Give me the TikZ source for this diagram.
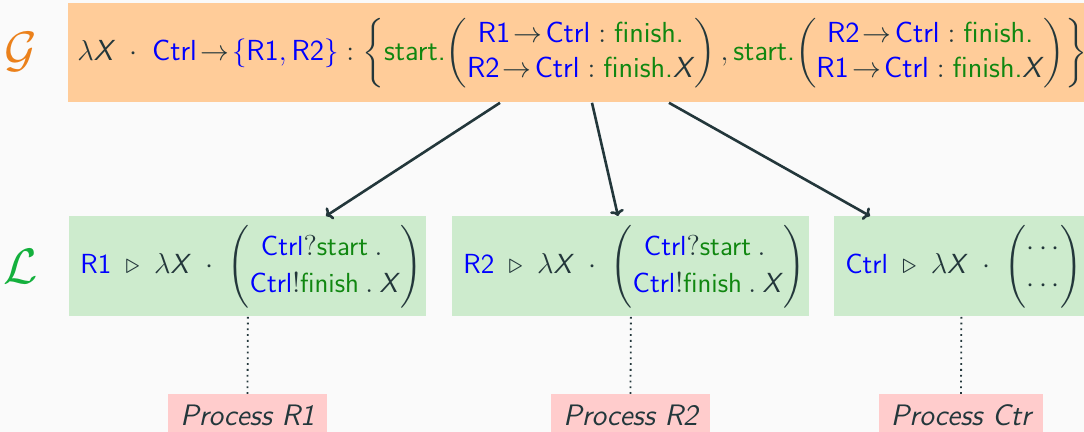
\documentclass[tikz,border=0pt]{standalone}
\usepackage{amsmath,amssymb}
\usetikzlibrary{arrows.meta}

\definecolor{bgc}{HTML}{FAFAFA}
\definecolor{ink}{HTML}{23373B}
\definecolor{gfill}{RGB}{255,204,153}
\definecolor{lfill}{RGB}{205,235,205}
\definecolor{pfill}{RGB}{255,204,204}
\definecolor{chanblue}{RGB}{0,0,255}
\definecolor{msggreen}{RGB}{16,135,16}
\definecolor{glabel}{HTML}{EB811B}
\definecolor{llabel}{HTML}{14B03D}

% participants, messages and the recursion variable
\newcommand{\role}[1]{\textcolor{chanblue}{\textsf{#1}}}
\newcommand{\msg}[1]{\textcolor{msggreen}{\textsf{#1}}}
\newcommand{\tvar}{\textsf{\textit{X}}}
\newcommand{\seqdot}{\mskip4mu.\mskip4mu}
\newcommand{\sendto}{\mskip2mu{\rightarrow}\mskip2mu}

\tikzset{
  x=0.5pt, y=-0.5pt,
  every node/.style={font=\sffamily\fontsize{14.5}{17.5}\selectfont, text=ink},
  gbox/.style={fill=gfill, inner xsep=4.5pt, inner ysep=0pt, minimum height=49.5pt,
    text width=505pt, align=left, anchor=north west},
  lbox/.style={fill=lfill, inner xsep=5.5pt, inner ysep=0pt, minimum height=50pt,
    align=left, anchor=north west, font=\sffamily\fontsize{13.8}{16.6}\selectfont},
  pbox/.style={fill=pfill, inner xsep=6pt, inner ysep=0pt, minimum height=21pt,
    minimum width=77.5pt, anchor=north, font=\sffamily\itshape\fontsize{14.8}{18}\selectfont},
  conn/.style={draw=ink, line width=1.3pt, -{To[length=3pt,width=7pt]}},
  tether/.style={draw=ink, dotted, line width=0.9pt},
  tierlabel/.style={font=\fontsize{23}{27}\selectfont}
}

\begin{document}
\begin{tikzpicture}
  \fill[bgc] (0,0) rectangle (1084,432);
  \useasboundingbox (0,0) rectangle (1084,432);

  % global type
  \node[tierlabel, text=glabel] (glab) at (21,52) {$\mathcal{G}$};
  \node[gbox] (top) at (68,3) {\mbox{\renewcommand{\arraystretch}{1.0}%
    $\lambda\tvar \;\cdot\; \role{Ctrl}\sendto
     \textcolor{chanblue}{\{\textsf{R1},\textsf{R2}\}} :
     \left\{\msg{start.}\!\begin{pmatrix}
        \role{R1}\sendto\role{Ctrl} : \msg{finish.}\\
        \role{R2}\sendto\role{Ctrl} : \msg{finish.}\tvar
      \end{pmatrix},
      \msg{start.}\!\begin{pmatrix}
        \role{R2}\sendto\role{Ctrl} : \msg{finish.}\\
        \role{R1}\sendto\role{Ctrl} : \msg{finish.}\tvar
      \end{pmatrix}\right\}$}};

  % local types
  \node[tierlabel, text=llabel] (llab) at (21,267) {$\mathcal{L}$};
  \node[lbox, text width=167.5pt] (l1) at (69,216) {\mbox{\renewcommand{\arraystretch}{1.14}%
    $\role{R1} \;\triangleright\; \lambda\tvar \;\cdot\;
     \begin{pmatrix}
        \role{Ctrl}?\msg{start}\seqdot\\
        \role{Ctrl}!\msg{finish}\seqdot\tvar
     \end{pmatrix}$}};
  \node[lbox, text width=167.5pt] (l2) at (452,216) {\mbox{\renewcommand{\arraystretch}{1.14}%
    $\role{R2} \;\triangleright\; \lambda\tvar \;\cdot\;
     \begin{pmatrix}
        \role{Ctrl}?\msg{start}\seqdot\\
        \role{Ctrl}!\msg{finish}\seqdot\tvar
     \end{pmatrix}$}};
  \node[lbox, text width=116pt] (l3) at (834,216) {\mbox{\renewcommand{\arraystretch}{1.14}%
    $\role{Ctrl} \;\triangleright\; \lambda\tvar \;\cdot\;
     \begin{pmatrix}
        \cdots\\
        \cdots
     \end{pmatrix}$}};

  % processes
  \node[pbox] (p1) at (247.5,394) {Process R1};
  \node[pbox] (p2) at (630.5,394) {Process R2};
  \node[pbox] (p3) at (961,394) {Process Ctr};

  % projection arrows
  \coordinate (g1) at (top.south west -| 500,0);
  \coordinate (g2) at (top.south west -| 592,0);
  \coordinate (g3) at (top.south west -| 669,0);
  \coordinate (e1) at (l1.north west -| 326,0);
  \coordinate (e2) at (l2.north west -| 618,0);
  \coordinate (e3) at (l3.north west -| 870,0);
  \draw[conn] (g1) -- (e1);
  \draw[conn] (g2) -- (e2);
  \draw[conn] (g3) -- (e3);

  % local types run as processes
  \draw[tether] (l1.south) -- (p1.north);
  \draw[tether] (l2.south) -- (p2.north);
  \draw[tether] (l3.south) -- (p3.north);
\end{tikzpicture}
\end{document}
